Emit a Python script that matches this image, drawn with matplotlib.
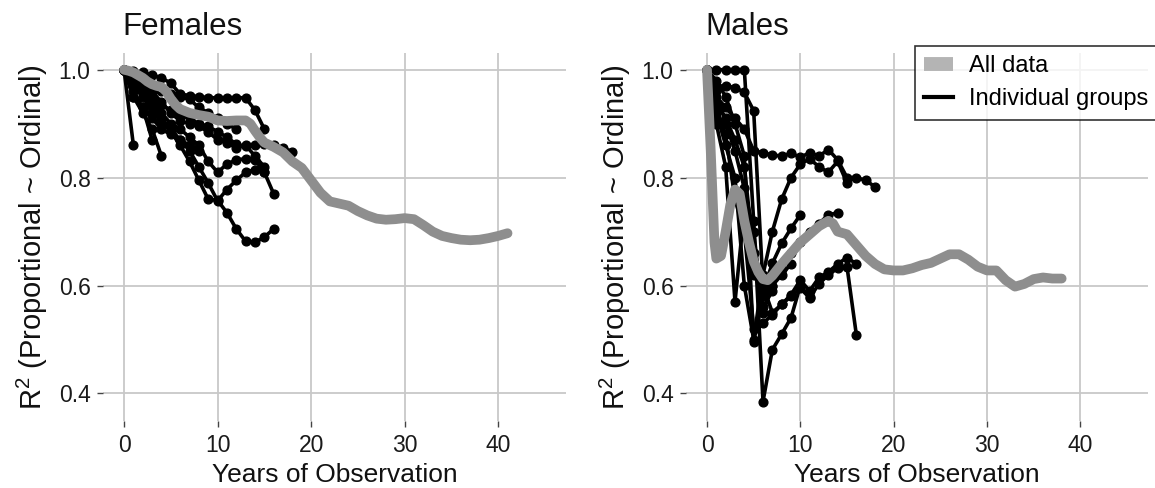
import matplotlib
matplotlib.use("Agg")
import matplotlib.pyplot as plt
from matplotlib.lines import Line2D
import matplotlib.transforms as mtransforms
import numpy as np

plt.rcParams['font.family'] = ['Liberation Sans', 'DejaVu Sans']
plt.rcParams['mathtext.fontset'] = 'custom'
plt.rcParams['mathtext.rm'] = 'Liberation Sans'
plt.rcParams['mathtext.default'] = 'regular'

# ---------------- data ----------------
# "All data" summary curves
fem_all_x = [0, 0.5, 1, 1.5, 2, 2.5, 3, 3.5, 4, 4.5, 5, 5.5, 6, 7, 8, 9, 10, 11, 12, 13, 13.5,
             14, 14.5, 15, 16, 17, 18, 19, 20, 21, 22, 23, 24, 25, 26, 27, 28, 29, 30, 31, 32,
             33, 34, 35, 36, 37, 38, 39, 40, 41]
fem_all_y = [1.0, 0.998, 0.995, 0.99, 0.985, 0.978, 0.973, 0.97, 0.968, 0.96, 0.946, 0.935, 0.927,
             0.92, 0.916, 0.913, 0.906, 0.905, 0.906, 0.906, 0.9, 0.887, 0.875, 0.865, 0.857, 0.847,
             0.83, 0.818, 0.795, 0.772, 0.756, 0.752, 0.748, 0.738, 0.73, 0.724, 0.722, 0.723,
             0.725, 0.723, 0.712, 0.7, 0.692, 0.688, 0.685, 0.684, 0.685, 0.688, 0.692, 0.697]

mal_all_x = [0, 0.4, 0.8, 1.0, 1.5, 2, 2.5, 3, 3.5, 4, 4.5, 5, 5.5, 6, 6.5, 7, 8, 9, 10, 11, 12,
             13, 13.5, 14, 15, 16, 17, 18, 19, 20, 21, 22, 23, 24, 25, 26, 27, 28, 29, 30, 31,
             32, 33, 34, 35, 36, 37, 38]
mal_all_y = [1.0, 0.85, 0.68, 0.65, 0.655, 0.70, 0.75, 0.778, 0.77, 0.72, 0.68, 0.645, 0.625,
             0.612, 0.61, 0.618, 0.64, 0.66, 0.68, 0.695, 0.71, 0.72, 0.715, 0.70, 0.695, 0.675,
             0.655, 0.64, 0.63, 0.628, 0.628, 0.632, 0.638, 0.642, 0.65, 0.658, 0.658, 0.648,
             0.635, 0.628, 0.628, 0.61, 0.598, 0.603, 0.612, 0.615, 0.613, 0.613]

# Individual groups (yearly values starting at year 0)
fem_g1 = [1.0, 0.86]
fem_g2 = [1.0, 0.95, 0.92, 0.89, 0.84]
fem_g3 = [1.0, 0.96, 0.93, 0.87]
fem_g4 = [1.0, 0.998, 0.995, 0.99, 0.985, 0.975, 0.955, 0.952, 0.95, 0.948, 0.948, 0.948, 0.948,
          0.948, 0.925, 0.89]
fem_g5 = [1.0, 0.98, 0.965, 0.95, 0.935, 0.925, 0.915, 0.91, 0.9, 0.895, 0.885, 0.875, 0.862,
          0.858, 0.86, 0.862, 0.86, 0.855, 0.848]
fem_g6 = [1.0, 0.975, 0.955, 0.935, 0.91, 0.89, 0.87, 0.85, 0.82, 0.79, 0.757, 0.778, 0.795,
          0.81, 0.815, 0.81, 0.77]
fem_g7 = [1.0, 0.97, 0.95, 0.925, 0.905, 0.885, 0.86, 0.83, 0.795, 0.76, 0.758, 0.735, 0.705,
          0.682, 0.68, 0.69, 0.705]
fem_g8 = [1.0, 0.985, 0.96, 0.94, 0.92, 0.9, 0.89, 0.875, 0.86, 0.83, 0.81, 0.825, 0.833, 0.835,
          0.833, 0.81]
fem_g9 = [1.0, 0.99, 0.975, 0.96, 0.94, 0.92, 0.905, 0.9, 0.895, 0.885, 0.87, 0.865, 0.855,
          0.86, 0.84, 0.82]
fem_g10 = [1.0, 0.95, 0.93, 0.91, 0.89, 0.88, 0.87, 0.86, 0.85]
fem_g11 = [1.0, 0.99, 0.98, 0.97, 0.96, 0.955, 0.95, 0.945, 0.93, 0.92, 0.91, 0.9, 0.89]
fem_groups = [fem_g1, fem_g2, fem_g3, fem_g4, fem_g5, fem_g6, fem_g7, fem_g8, fem_g9, fem_g10,
              fem_g11]

mal_g1 = [1.0, 1.0, 1.0, 1.0, 1.0, 0.72, 0.385, 0.481, 0.51, 0.54, 0.60, 0.578, 0.603, 0.62,
          0.632, 0.635, 0.509]
mal_g2 = [1.0, 0.97, 0.97, 0.967, 0.958, 0.924, 0.60, 0.55, 0.565, 0.583, 0.61, 0.59, 0.615,
          0.625, 0.64, 0.652, 0.64]
mal_g3 = [1.0, 0.95, 0.93, 0.91, 0.89, 0.85, 0.846, 0.842, 0.84, 0.845, 0.838, 0.846, 0.84,
          0.852, 0.833, 0.80, 0.80, 0.795, 0.783]
mal_g4 = [1.0, 0.92, 0.86, 0.80, 0.60, 0.50, 0.62, 0.70, 0.76, 0.80, 0.825, 0.835, 0.82, 0.81,
          0.83, 0.79]
mal_g5 = [1.0, 0.90, 0.82, 0.57, 0.74, 0.62, 0.59, 0.641, 0.678, 0.706, 0.731]
mal_g6 = [1.0, 0.96, 0.90, 0.85, 0.78, 0.70, 0.55, 0.60, 0.63, 0.66, 0.68, 0.70, 0.715, 0.731,
          0.735]
mal_g7 = [1.0, 0.93, 0.88, 0.76, 0.70, 0.52, 0.53, 0.546, 0.565, 0.58, 0.595, 0.577]
mal_g8 = [1.0, 0.98, 0.95, 0.90, 0.84, 0.496, 0.58, 0.60, 0.62, 0.64]
mal_g9 = [1.0, 0.94, 0.91, 0.87, 0.82, 0.66, 0.56, 0.59]
mal_groups = [mal_g1, mal_g2, mal_g3, mal_g4, mal_g5, mal_g6, mal_g7, mal_g8, mal_g9]

x_ticks = [0, 10, 20, 30, 40]
y_ticks = [0.4, 0.6, 0.8, 1.0]
y_ticklabels = ["0.4", "0.6", "0.8", "1.0"]

# ---------------- figure ----------------
W, H = 1155, 488
fig = plt.figure(figsize=(W / 100, H / 100), dpi=100)

def px_axes(l, t, r, b):
    return fig.add_axes([l / W, 1 - b / H, (r - l) / W, (b - t) / H])

ax_f = px_axes(103, 53, 566, 421)
ax_m = px_axes(686, 53, 1148, 421)

GRAY = '#8e8e8e'

def style(ax, title):
    ax.set_xlim(-2.25, 47.25)
    ax.set_ylim(0.349, 1.031)
    ax.set_xticks(x_ticks)
    ax.set_xticklabels([str(v) for v in x_ticks])
    ax.set_yticks(y_ticks)
    ax.set_yticklabels(y_ticklabels)
    for s in ax.spines.values():
        s.set_visible(False)
    ax.grid(True, color='#c8c8c8', linewidth=1.3)
    ax.set_axisbelow(True)
    ax.tick_params(axis='both', length=4.5, width=1.0, color='#444444', labelsize=16.5,
                   labelcolor='#1a1a1a', pad=4.5)
    ax.set_xlabel('Years of Observation', fontsize=19, labelpad=4.5, color='#111111')
    ax.set_ylabel('R$^2$ (Proportional ~ Ordinal)', fontsize=21, labelpad=6, color='#111111')
    trans = mtransforms.blended_transform_factory(ax.transData, ax.transAxes)
    ax.text(-0.2, 1 + 18 / 368, title, transform=trans, ha='left', va='baseline',
            fontsize=22.5, color='#111111')

for ax, groups, ax_x, ax_y, title in [(ax_f, fem_groups, fem_all_x, fem_all_y, 'Females'),
                                        (ax_m, mal_groups, mal_all_x, mal_all_y, 'Males')]:
    style(ax, title)
    for g in groups:
        ax.plot(np.arange(len(g)), g, color='black', linewidth=2.6, marker='o', markersize=6.3,
                zorder=3)
    ax.plot(ax_x, ax_y, color=GRAY, linewidth=7, solid_capstyle='round',
            solid_joinstyle='round', zorder=4)

handles = [Line2D([], [], color='#b4b4b4', linewidth=10, solid_capstyle='butt'),
           Line2D([], [], color='black', linewidth=3)]
leg = fig.legend(handles, ['All data', 'Individual groups'], loc='upper left',
                 bbox_to_anchor=(915 / W, 1 - 46 / H), frameon=True, fancybox=False,
                 edgecolor='black', fontsize=17, handlelength=1.2, handletextpad=0.7,
                 borderpad=0.4, labelspacing=0.45, borderaxespad=0)
leg.get_frame().set_linewidth(1.2)

fig.savefig('out.png', dpi=100, facecolor='white')
